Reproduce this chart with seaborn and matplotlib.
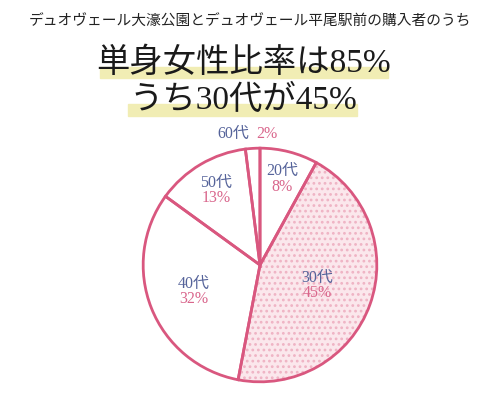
import numpy as np
import matplotlib
matplotlib.use('Agg')
import matplotlib.pyplot as plt
import seaborn as sns

# data
ages = ['20代', '30代', '40代', '50代', '60代']
shares = [8, 45, 32, 13, 2]
title_small = 'デュオヴェール大濠公園とデュオヴェール平尾駅前の購入者のうち'
title_line1 = '単身女性比率は85%'
title_line2 = 'うち30代が45%'

sns.set_theme(style='white')
plt.rcParams['font.family'] = ['Noto Sans CJK JP', 'DejaVu Sans']
plt.rcParams['hatch.linewidth'] = 1.2

edge_pink = '#d9577f'
dot_pink = '#efb3c4'
fill_pink = '#fbe7ec'
age_blue = '#55639a'
pct_pink = '#d9668c'
hi_yellow = '#f1edb4'

fig = plt.figure(figsize=(5, 4.04), dpi=100)

# header texts with yellow marker bands
fig.text(0.5, 1 - 22 / 404, title_small, ha='center', va='center', fontsize=10.6, color='#222222')
fig.patches.append(plt.Rectangle((100 / 500, 1 - 78 / 404), 288 / 500, 11 / 404,
                                 transform=fig.transFigure, color=hi_yellow, zorder=0))
fig.patches.append(plt.Rectangle((128 / 500, 1 - 116 / 404), 229 / 500, 12 / 404,
                                 transform=fig.transFigure, color=hi_yellow, zorder=0))
fig.text(0.488, 1 - 63 / 404, title_line1, ha='center', va='center', fontsize=24,
         color='#1a1a1a', family=['Liberation Serif', 'Noto Sans CJK JP'])
fig.text(0.486, 1 - 100 / 404, title_line2, ha='center', va='center', fontsize=24,
         color='#1a1a1a', family=['Liberation Serif', 'Noto Sans CJK JP'])

# pie: fill layer (with dotted 30s wedge) then outline layer
ax = fig.add_axes([142 / 500, 21 / 404, 236 / 500, 236 / 404])
fills = ['white', fill_pink, 'white', 'white', 'white']
wedges, _ = ax.pie(shares, startangle=90, counterclock=False, colors=fills,
                   wedgeprops=dict(linewidth=0))
wedges[1].set_hatch('...')
wedges[1].set_edgecolor(dot_pink)
wedges[1].set_linewidth(0)
ax.pie(shares, startangle=90, counterclock=False,
       wedgeprops=dict(facecolor='none', edgecolor=edge_pink, linewidth=2))
ax.set_aspect('equal')
ax.set_xlim(-1.01, 1.01)
ax.set_ylim(-1.01, 1.01)
ax.axis('off')

# labels inside wedges
label_r = [0.76, 0.52, 0.61, 0.74]
label_fam = ['Liberation Serif', 'Noto Sans CJK JP']
start = 90.0
for i, (age, s) in enumerate(zip(ages, shares)):
    mid = np.deg2rad(start - 360 * (sum(shares[:i]) + s / 2) / 100)
    if i < 4:
        x, y = label_r[i] * np.cos(mid), label_r[i] * np.sin(mid)
        ax.text(x, y + 0.065, age, ha='center', va='center', fontsize=11.5,
                color=age_blue, family=label_fam)
        ax.text(x, y - 0.065, f'{s}%', ha='center', va='center', fontsize=11.5,
                color=pct_pink, family=label_fam)
    else:
        ax.text(-0.09, 1.12, age, ha='right', va='center', fontsize=11.5,
                color=age_blue, family=label_fam, clip_on=False)
        ax.text(-0.03, 1.12, f'{s}%', ha='left', va='center', fontsize=11.5,
                color=pct_pink, family=label_fam, clip_on=False)

fig.savefig('out.png', dpi=100, facecolor='white')
